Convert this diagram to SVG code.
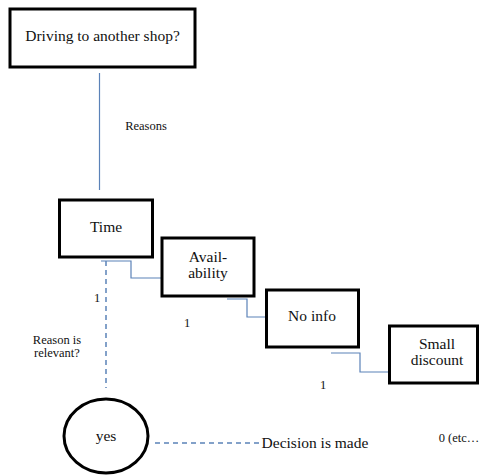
<svg xmlns="http://www.w3.org/2000/svg" width="480" height="475" viewBox="0 0 480 475">
<style>
.box{fill:#fff;stroke:#000;stroke-width:3}
text{font-family:'Liberation Serif','Times New Roman','DejaVu Serif',serif;fill:#111;text-anchor:middle}
.big{font-size:15.5px}
.sm{font-size:12.5px}
.conn{fill:none;stroke:#5b82b8;stroke-width:1.2}
.dash{fill:none;stroke:#5b82b8;stroke-width:1.5;stroke-dasharray:5 4}
</style>
<rect width="480" height="475" fill="#fff"/>
<g id="connectors">
<line class="conn" x1="99.5" y1="73" x2="99.5" y2="190"/>
<polyline class="conn" points="101,261 131,261 131,278 161,278"/>
<polyline class="conn" points="227,299 247,299 247,317 266,317"/>
<polyline class="conn" points="331,353 360,353 360,372 389,372"/>
<line class="dash" x1="106" y1="261" x2="106" y2="388"/>
<line class="dash" x1="155" y1="443" x2="260" y2="443"/>
</g>
<g id="labels">
<text class="sm" x="146" y="130">Reasons</text>
<text class="sm" x="97" y="302">1</text>
<text class="sm" x="187" y="327">1</text>
<text class="sm" x="323" y="389">1</text>
<text class="sm" x="57" y="344">Reason is</text>
<text class="sm" x="57" y="357">relevant?</text>
<text class="sm" x="459" y="442">0 (etc…</text>
<text class="big" x="315" y="448">Decision is made</text>
</g>
<g id="root">
<rect class="box" x="10" y="9" width="185" height="58"/>
<text class="big" x="102.5" y="41">Driving to another shop?</text>
</g>
<g id="time">
<rect class="box" x="59.5" y="200" width="93" height="57"/>
<text class="big" x="106" y="232">Time</text>
</g>
<g id="availability">
<rect class="box" x="162" y="238" width="92" height="58"/>
<text class="big" x="208" y="262">Avail-</text>
<text class="big" x="208" y="278">ability</text>
</g>
<g id="noinfo">
<rect class="box" x="266.5" y="290" width="92" height="57"/>
<text class="big" x="312" y="321">No info</text>
</g>
<g id="smalldiscount">
<rect class="box" x="389.5" y="326" width="88" height="57"/>
<text class="big" x="437" y="349">Small</text>
<text class="big" x="437" y="365">discount</text>
</g>
<g id="yes">
<ellipse cx="106" cy="436" rx="42" ry="37" fill="#fff" stroke="#000" stroke-width="3"/>
<text class="big" x="106" y="441">yes</text>
</g>
</svg>
